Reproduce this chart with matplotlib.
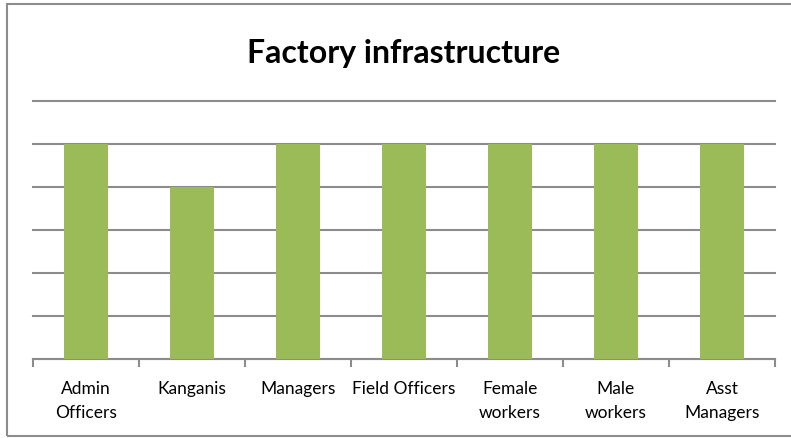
import matplotlib.pyplot as plt
from matplotlib.patches import Rectangle
import numpy as np

categories = ["Admin\nOfficers", "Kanganis", "Managers", "Field Officers",
              "Female\nworkers", "Male\nworkers", "Asst\nManagers"]
values = [5, 4, 5, 5, 5, 5, 5]

plt.rcParams['font.family'] = ['Lato', 'DejaVu Sans']

fig = plt.figure(figsize=(7.91, 4.39), dpi=100)
ax = fig.add_axes([33/791, 1 - 360/439, 742/791, 258/439])

x = np.arange(len(categories))
ax.bar(x, values, width=0.41, color="#9BBB59", zorder=3)

ax.set_xlim(-0.5, len(categories) - 0.5)
ax.set_ylim(0, 6)
ax.set_yticks(np.arange(0, 7, 1))
ax.yaxis.grid(True, color="#8c8c8c", linewidth=1.5, zorder=0)
for gl in ax.get_ygridlines():
    gl.set_clip_on(False)
ax.tick_params(axis='y', left=False, labelleft=False)

ax.set_xticks(x)
ax.set_xticklabels(categories, fontsize=12.5, linespacing=1.62)
ax.tick_params(axis='x', which='major', length=0, pad=15)
ax.set_xticks(np.arange(-0.5, len(categories)), minor=True)
ax.tick_params(axis='x', which='minor', length=6, width=1.5, color="#8c8c8c")

for side in ["top", "right", "left"]:
    ax.spines[side].set_visible(False)
ax.spines["bottom"].set_color("#8c8c8c")
ax.spines["bottom"].set_linewidth(1.5)

fig.text(404/791, 1 - 53/439, "Factory infrastructure", ha="center", va="center",
         fontsize=23, fontweight="bold")

# chart frame
fig.patches.append(Rectangle((7/791, 1 - 437/439), 1.0, 432/439,
                             transform=fig.transFigure, fill=False,
                             edgecolor="#8c8c8c", linewidth=1.5))

fig.savefig("out.png", dpi=100)
